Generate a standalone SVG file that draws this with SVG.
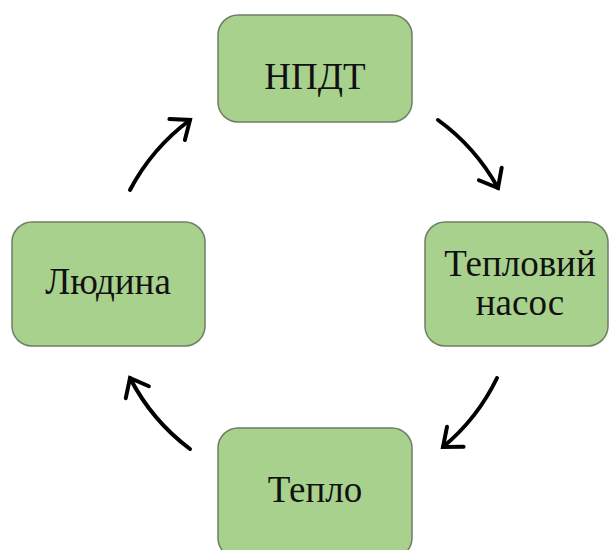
<svg xmlns="http://www.w3.org/2000/svg" width="611" height="550" viewBox="0 0 611 550">
<style>
.box{fill:#a9d18e;stroke:#6e7e64;stroke-width:1.5}
.lbl{font-family:"Liberation Serif","Times New Roman",serif;font-size:37px;fill:#111;text-anchor:middle}
.arc{fill:none;stroke:#000;stroke-width:4;stroke-linecap:round}
</style>
<defs>
<marker id="ah" markerUnits="userSpaceOnUse" markerWidth="40" markerHeight="40" refX="20" refY="20" orient="auto" viewBox="0 0 40 40">
<path d="M4,7 L20,20 L4,33" fill="none" stroke="#000" stroke-width="4" stroke-linecap="round" stroke-linejoin="miter"/>
</marker>
</defs>
<g id="connectors">
<path class="arc" marker-end="url(#ah)" d="M438,120 A207,207 0 0 1 498,188"/>
<path class="arc" marker-end="url(#ah)" d="M497,378 A207,207 0 0 1 443,447"/>
<path class="arc" marker-end="url(#ah)" d="M190,449 A207,207 0 0 1 130,378"/>
<path class="arc" marker-end="url(#ah)" d="M130,190 A207,207 0 0 1 190,120"/>
</g>
<g id="n1"><rect class="box" x="218" y="15" width="194" height="107" rx="20"/><text class="lbl" x="315" y="89">НПДТ</text></g>
<g id="n2"><rect class="box" x="425" y="222" width="183" height="124" rx="20"/><text class="lbl" x="520" y="276">Тепловий</text><text class="lbl" x="520" y="315">насос</text></g>
<g id="n3"><rect class="box" x="218" y="428" width="194" height="130" rx="20"/><text class="lbl" x="315" y="502">Тепло</text></g>
<g id="n4"><rect class="box" x="12" y="222" width="193" height="124" rx="20"/><text class="lbl" x="108" y="294">Людина</text></g>
</svg>
